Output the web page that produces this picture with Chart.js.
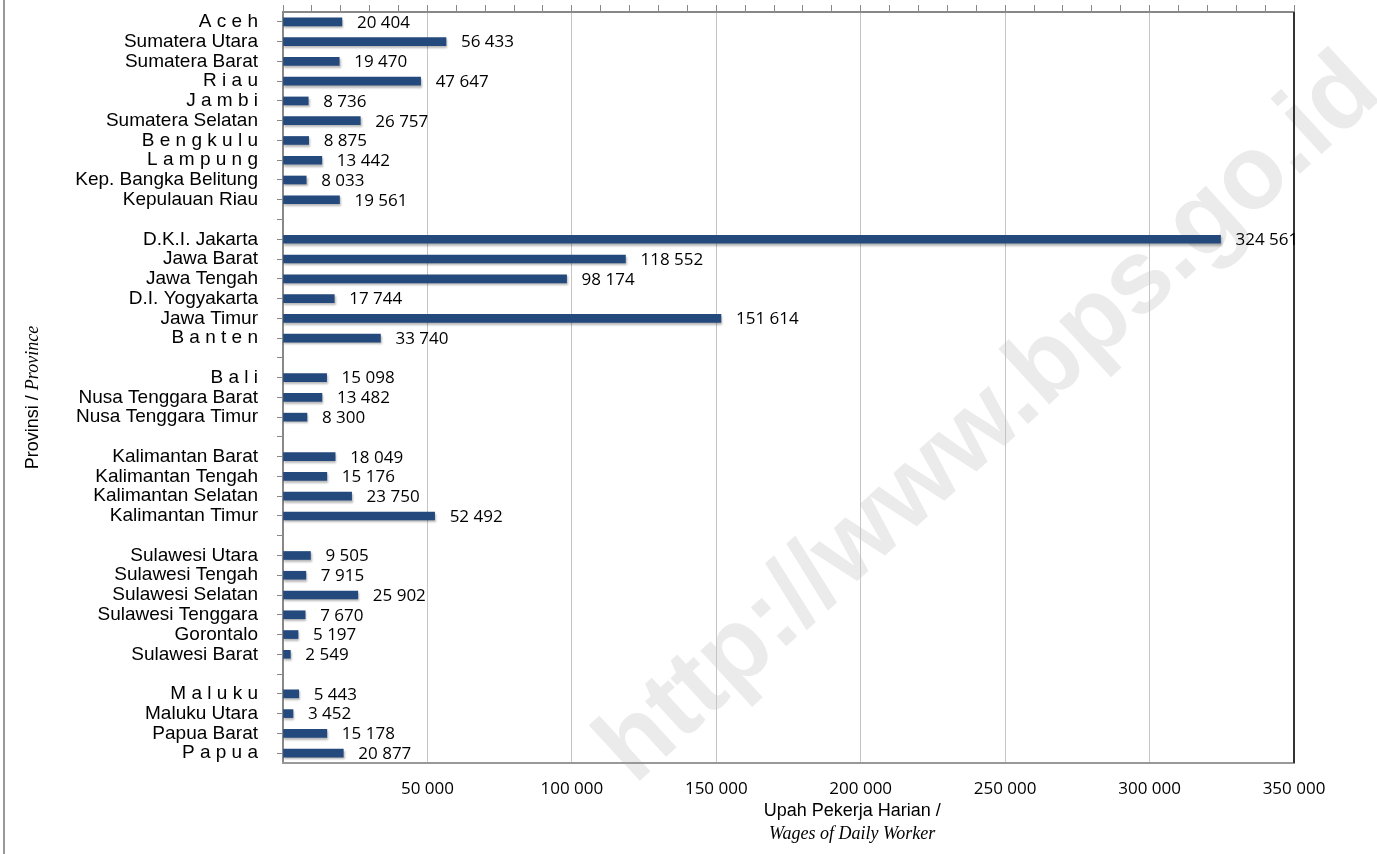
<!DOCTYPE html>
<html>
<head>
<meta charset="utf-8">
<title>Upah Pekerja Harian menurut Provinsi</title>
<script src="https://cdn.jsdelivr.net/npm/chart.js@4.4.0/dist/chart.umd.min.js"></script>
<style>
  html, body { margin: 0; padding: 0; background: #fff; }
</style>
</head>
<body>
<canvas id="wageChart" width="1377" height="854"></canvas>
<script>
// empty strings are the blank rows between island groups
const provinces = [
    'A c e h', 'Sumatera Utara', 'Sumatera Barat', 'R i a u', 'J a m b i',
    'Sumatera Selatan', 'B e n g k u l u', 'L a m p u n g', 'Kep. Bangka Belitung', 'Kepulauan Riau',
    '',
    'D.K.I. Jakarta', 'Jawa Barat', 'Jawa Tengah', 'D.I. Yogyakarta', 'Jawa Timur', 'B a n t e n',
    '',
    'B a l i', 'Nusa Tenggara Barat', 'Nusa Tenggara Timur',
    '',
    'Kalimantan Barat', 'Kalimantan Tengah', 'Kalimantan Selatan', 'Kalimantan Timur',
    '',
    'Sulawesi Utara', 'Sulawesi Tengah', 'Sulawesi Selatan', 'Sulawesi Tenggara', 'Gorontalo', 'Sulawesi Barat',
    '',
    'M a l u k u', 'Maluku Utara', 'Papua Barat', 'P a p u a'
];

const wages = [
    20404, 56433, 19470, 47647, 8736,
    26757, 8875, 13442, 8033, 19561,
    null,
    324561, 118552, 98174, 17744, 151614, 33740,
    null,
    15098, 13482, 8300,
    null,
    18049, 15176, 23750, 52492,
    null,
    9505, 7915, 25902, 7670, 5197, 2549,
    null,
    5443, 3452, 15178, 20877
];

const wageTicks = [0, 50000, 100000, 150000, 200000, 250000, 300000, 350000];

const xTitle = ['Upah Pekerja Harian /', 'Wages of Daily Worker'];
const yTitle = ['Provinsi / ', 'Province'];

document.addEventListener('DOMContentLoaded', () => {
    const fmt = v => String(v).replace(/\B(?=(\d{3})+(?!\d))/g, ' ');

    // background, watermark, bar labels, frame lines and the two-font axis titles
    const decor = {
        id: 'decor',
        beforeDraw(chart) {
            const c = chart.ctx;
            c.save();
            c.fillStyle = '#fff';
            c.fillRect(0, 0, chart.width, chart.height);
            c.translate(990, 420);
            c.rotate(-42.6 * Math.PI / 180);
            c.font = 'bold 104px "Liberation Sans", Arial, sans-serif';
            c.fillStyle = '#ebebeb';
            c.textAlign = 'center';
            c.textBaseline = 'middle';
            c.fillText('http://www.bps.go.id', 0, 0);
            c.restore();
        },
        beforeDatasetsDraw(chart) {
            const c = chart.ctx;
            c.save();
            c.shadowColor = 'rgba(0,0,0,0.28)';
            c.shadowOffsetX = 1;
            c.shadowOffsetY = 2;
            c.shadowBlur = 2;
        },
        afterDatasetsDraw(chart) {
            chart.ctx.restore();
        },
        afterDraw(chart) {
            const c = chart.ctx;
            const a = chart.chartArea;
            c.save();
            // right edge of plot
            c.strokeStyle = '#333';
            c.lineWidth = 2;
            c.beginPath();
            c.moveTo(a.right, a.top);
            c.lineTo(a.right, a.bottom);
            c.stroke();
            // outer frame on the left
            c.strokeStyle = '#999';
            c.beginPath();
            c.moveTo(4, 0);
            c.lineTo(4, chart.height);
            c.stroke();

            // value labels at the end of each bar
            c.font = '17px "Open Sans", sans-serif';
            c.fillStyle = '#000';
            c.textAlign = 'left';
            c.textBaseline = 'middle';
            chart.getDatasetMeta(0).data.forEach((bar, i) => {
                if (wages[i] == null) return;
                c.fillText(fmt(wages[i]), bar.x + 15, bar.y + 1);
            });

            // x title
            c.textAlign = 'center';
            const cx = a.left + (a.right - a.left) * 0.563;
            c.font = '18px "Liberation Sans", Arial, sans-serif';
            c.fillText(xTitle[0], cx, a.bottom + 48);
            c.font = 'italic 18px "Liberation Serif", "Times New Roman", serif';
            c.fillText(xTitle[1], cx, a.bottom + 71);

            // y title, rotated
            c.translate(33, (a.top + a.bottom) / 2 + 10);
            c.rotate(-Math.PI / 2);
            c.textAlign = 'left';
            const f1 = '18px "Liberation Sans", Arial, sans-serif';
            const f2 = 'italic 18px "Liberation Serif", "Times New Roman", serif';
            c.font = f1;
            const w1 = c.measureText(yTitle[0]).width;
            c.font = f2;
            const w2 = c.measureText(yTitle[1]).width;
            const x0 = -(w1 + w2) / 2;
            c.font = f1;
            c.fillText(yTitle[0], x0, 0);
            c.font = f2;
            c.fillText(yTitle[1], x0 + w1, 0);
            c.restore();
        }
    };

    const ctx = document.getElementById('wageChart').getContext('2d');
    new Chart(ctx, {
        type: 'bar',
        data: {
            labels: provinces,
            datasets: [{
                label: 'Upah Pekerja Harian',
                data: wages,
                backgroundColor: '#23497d',
                barThickness: 8
            }]
        },
        options: {
            indexAxis: 'y',
            responsive: false,
            animation: false,
            layout: { padding: { left: 0, right: 83, top: 0, bottom: 0 } },
            plugins: {
                legend: { display: false },
                tooltip: { enabled: false }
            },
            scales: {
                y: {
                    type: 'category',
                    offset: true,
                    grid: { drawOnChartArea: false, offset: false, tickLength: 6, color: '#888' },
                    border: { color: '#888', width: 2 },
                    ticks: {
                        autoSkip: false,
                        padding: 19,
                        color: '#000',
                        font: { family: '"Liberation Sans", Arial, sans-serif', size: 19 }
                    },
                    afterFit(scale) {
                        scale.width = 283;
                        scale.paddingTop = 0;
                        scale.paddingBottom = 0;
                    }
                },
                x: {
                    type: 'linear',
                    min: 0,
                    max: 350000,
                    afterBuildTicks(scale) {
                        scale.ticks = wageTicks.map(v => ({ value: v }));
                    },
                    grid: { color: '#c4c4c4', drawTicks: false },
                    border: { color: '#999', width: 2 },
                    ticks: {
                        padding: 16,
                        maxRotation: 0,
                        color: '#000',
                        font: { family: '"Open Sans", sans-serif', size: 17 },
                        callback: v => (v === 0 ? '' : fmt(v))
                    },
                    afterFit(scale) { scale.height = 91; }
                },
                xTop: {
                    type: 'linear',
                    axis: 'x',
                    position: 'top',
                    min: 0,
                    max: 350000,
                    ticks: { display: false, stepSize: 10000 },
                    grid: { drawOnChartArea: false, tickLength: 7, color: '#888' },
                    border: { color: '#888', width: 2 },
                    afterFit(scale) { scale.height = 12; }
                }
            }
        },
        plugins: [decor]
    });
});
</script>
</body>
</html>
